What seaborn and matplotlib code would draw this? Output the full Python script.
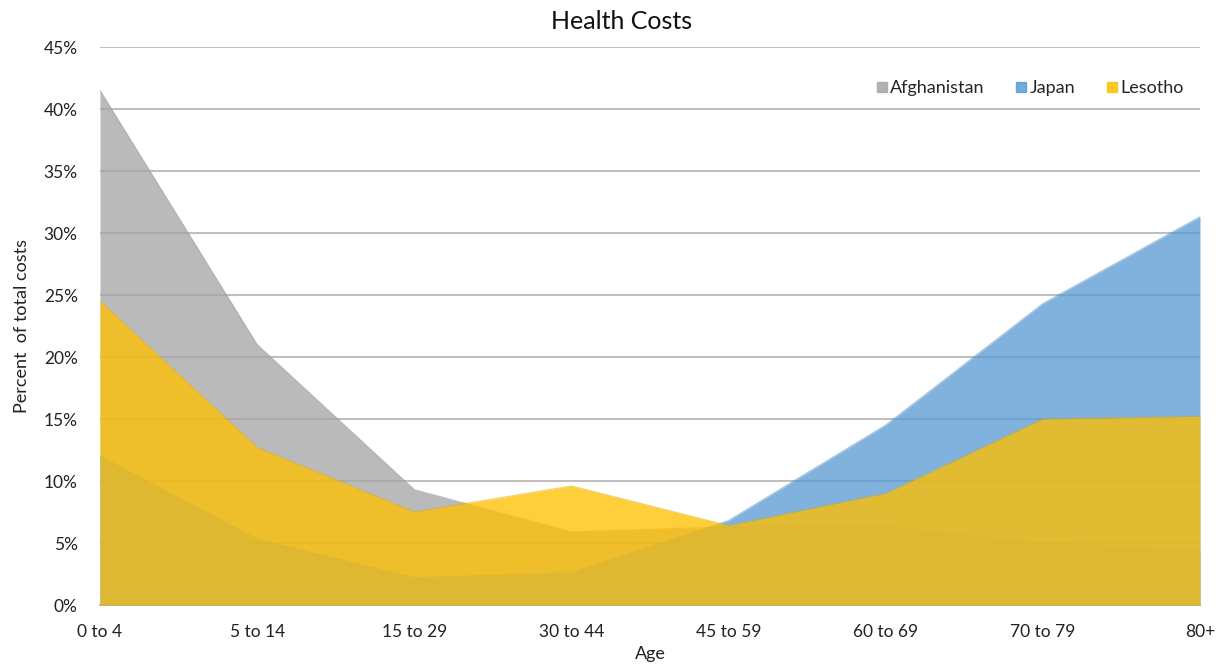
import matplotlib
matplotlib.use("Agg")
import matplotlib.pyplot as plt
import seaborn as sns
import numpy as np
import pandas as pd
from matplotlib.lines import Line2D
from matplotlib.ticker import FuncFormatter

ages = ["0 to 4", "5 to 14", "15 to 29", "30 to 44", "45 to 59", "60 to 69", "70 to 79", "80+"]
afghanistan = [41.5, 21.0, 9.3, 5.9, 6.3, 6.4, 5.0, 4.4]
japan = [12.0, 5.3, 2.2, 2.6, 6.8, 14.5, 24.3, 31.3]
lesotho = [24.5, 12.7, 7.5, 9.6, 6.4, 9.0, 15.0, 15.2]

series_names = ["Afghanistan", "Japan", "Lesotho"]
series_colors = ["#A5A5A5", "#5B9BD5", "#FFC000"]
edge_colors = ["#8E8E8E", "#4A86BE", "#E0AC00"]

df = pd.DataFrame({"Age": ages, "Afghanistan": afghanistan, "Japan": japan, "Lesotho": lesotho})
df["pos"] = np.arange(len(ages))

sns.set_theme(style="white")
plt.rcParams["font.family"] = ["Lato", "DejaVu Sans"]

fig = plt.figure(figsize=(12.24, 6.72), dpi=100)
ax = fig.add_axes([100 / 1224, 1 - 605 / 672, 1100 / 1224, 558 / 672])

for i, (name, col, ecol) in enumerate(zip(series_names, series_colors, edge_colors)):
    sns.lineplot(data=df, x="pos", y=name, ax=ax, color=ecol, linewidth=0.9, alpha=0.5, zorder=2 + 2 * i)
    ax.fill_between(df["pos"], 0, df[name], color=col, alpha=0.77, linewidth=0, zorder=3 + 2 * i)

ax.set_xlim(0, len(ages) - 1)
ax.set_ylim(0, 45)
ax.set_yticks(np.arange(0, 46, 5))
ax.yaxis.set_major_formatter(FuncFormatter(lambda v, p: f"{int(v)}%"))
ax.set_xticks(df["pos"])
ax.set_xticklabels(ages)
ax.grid(axis="y", color="#BFBFBF", linewidth=1.5, zorder=1)
ax.set_axisbelow(True)
for s in ["top", "right", "left"]:
    ax.spines[s].set_visible(False)
ax.spines["bottom"].set_color("#BFBFBF")
ax.spines["bottom"].set_linewidth(1.5)
ax.tick_params(axis="both", length=0, labelsize=12.5, colors="#222222")
ax.tick_params(axis="x", pad=14)
ax.tick_params(axis="y", pad=16)

ax.set_xlabel("Age", fontsize=13, color="#222222", labelpad=4)
ax.set_ylabel("Percent  of total costs", fontsize=13, color="#222222", labelpad=10)
fig.text(0.508, 0.968, "Health Costs", ha="center", va="center", fontsize=18, color="#111111")

handles = [Line2D([0], [0], marker="s", linestyle="none", markersize=7,
                  markerfacecolor=c, markeredgecolor=c, alpha=0.85) for c in series_colors]
ax.legend(handles, series_names, ncol=3, loc="upper right", bbox_to_anchor=(1.0, 0.97),
          frameon=False, fontsize=13, handletextpad=0.0, columnspacing=1.6, handlelength=0.9)

fig.savefig("out.png", dpi=100)
